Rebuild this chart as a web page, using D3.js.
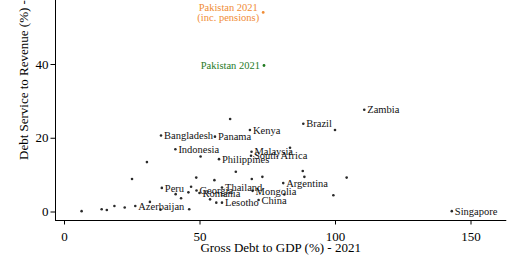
<!DOCTYPE html>
<html><head><meta charset="utf-8">
<script src="https://cdn.jsdelivr.net/npm/d3@7"></script>
<style>
body{margin:0;background:#fff}
svg{display:block}
</style>
</head><body><svg id="c" width="520" height="272"></svg>
<script>
// Labelled countries
const labeledCountries = ["Zambia","Brazil","Kenya","Bangladesh","Panama","Indonesia","Malaysia","South Africa","Philippines","Peru","Thailand","Argentina","Mongolia","Georgia","Romania","China","Lesotho","Azerbaijan","Singapore"];
const labeledDebt =     [110.8, 88.3, 68.6, 35.8, 55.7, 41.1, 69.2, 69.0, 57.2, 36.1, 58.3, 80.9, 69.6, 48.9, 50.0, 71.8, 58.3, 26.3, 143.1];
const labeledService =  [27.6, 23.8, 22.1, 20.6, 20.3, 16.9, 16.2, 15.1, 14.2, 6.4, 6.5, 7.7, 5.6, 5.7, 5.0, 3.1, 2.4, 1.5, 0.1];
// Unlabelled countries
const otherDebt =    [6.5, 13.9, 15.8, 18.6, 22.4, 25.1, 30.6, 31.7, 35.6, 41.2, 43.2, 45.9, 46.9, 46.2, 48.8, 50.4, 55.5, 53.9, 56.2, 63.4, 69.3, 73.2, 61.3, 100.0, 83.4, 88.1, 88.7, 104.3, 99.4, 81.3];
const otherService = [0.1, 0.6, 0.4, 1.5, 1.1, 8.8, 13.4, 2.6, 0.5, 4.7, 3.6, 5.2, 6.7, 0.6, 9.2, 14.9, 8.5, 3.3, 2.4, 10.8, 8.8, 9.4, 25.1, 22.1, 17.3, 11.0, 9.4, 9.2, 4.4, 4.6];
// Pakistan highlights
const pakistanLabels = [["Pakistan 2021"], ["Pakistan 2021", "(inc. pensions)"]];
const pakistanDebt = [73.8, 73.5];
const pakistanService = [39.6, 54.0];
const pakistanColors = ["#1f7a1f", "#f08c35"];
// Axes
const xTicks = [0, 50, 100, 150];
const yTicks = [0, 20, 40];
const xTitle = "Gross Debt to GDP (%) - 2021";
const yTitle = "Debt Service to Revenue (%) - 2021";

const FONT = '"Liberation Serif", "Times New Roman", serif';
const svg = d3.select("#c").style("font-family", FONT);
const x = d3.scaleLinear().domain([0, 150]).range([64, 470.5]);
const y = d3.scaleLinear().domain([0, 40]).range([211.5, 64]);
const axisY0 = 220.5, axisX0 = 55.5;

// X axis
const gx = svg.append("g").attr("transform", `translate(0,${axisY0})`)
  .call(d3.axisBottom(x).tickValues(xTicks).tickSize(4).tickPadding(7).tickSizeOuter(0));
gx.attr("font-family", null).attr("font-size", null);
gx.select(".domain").remove();
gx.append("line").attr("x1", x(-3.3)).attr("x2", x(163.2)).attr("stroke", "#000");
gx.selectAll(".tick line").attr("stroke", "#000");
gx.selectAll(".tick text").attr("font-size", 13).attr("fill", "#000").style("font-family", FONT);

// Y axis
const gy = svg.append("g").attr("transform", `translate(${axisX0},0)`)
  .call(d3.axisLeft(y).tickValues(yTicks).tickSize(5).tickPadding(2).tickSizeOuter(0));
gy.attr("font-family", null).attr("font-size", null);
gy.select(".domain").remove();
gy.append("line").attr("y1", axisY0).attr("y2", y(60)).attr("stroke", "#000");
gy.selectAll(".tick line").attr("stroke", "#000");
gy.selectAll(".tick text").attr("font-size", 13).attr("fill", "#000").style("font-family", FONT);

// Titles
svg.append("text").attr("x", (x(-3.3) + x(163.2)) / 2).attr("y", 252)
  .attr("text-anchor", "middle").attr("font-size", 13).attr("fill", "#000").style("font-family", FONT).text(xTitle);
svg.append("text").attr("transform", "translate(28,160) rotate(-90)")
  .attr("text-anchor", "start").attr("font-size", 13).attr("fill", "#000").style("font-family", FONT).text(yTitle);

// Unlabelled points
svg.append("g").selectAll("circle").data(otherDebt.map((d, i) => [d, otherService[i]]))
  .join("circle").attr("cx", d => x(d[0])).attr("cy", d => y(d[1])).attr("r", 1.3).attr("fill", "#2a2a2a");

// Labelled points
const lab = labeledCountries.map((n, i) => ({n, d: labeledDebt[i], s: labeledService[i]}));
const gl = svg.append("g");
gl.selectAll("circle").data(lab).join("circle")
  .attr("cx", d => x(d.d)).attr("cy", d => y(d.s)).attr("r", 1.3).attr("fill", "#2a2a2a");
gl.selectAll("text").data(lab).join("text")
  .attr("x", d => x(d.d) + 3).attr("y", d => y(d.s)).attr("dy", "0.35em")
  .attr("font-size", 10.5).attr("fill", "#111").style("font-family", FONT).text(d => d.n);

// Pakistan
const pk = pakistanLabels.map((l, i) => ({l, d: pakistanDebt[i], s: pakistanService[i], c: pakistanColors[i]}));
const gp = svg.append("g");
gp.selectAll("circle").data(pk).join("circle")
  .attr("cx", d => x(d.d)).attr("cy", d => y(d.s)).attr("r", 1.4).attr("fill", d => d.c);
pk.forEach(p => {
  const t = gp.append("text").attr("font-size", 10.5).attr("fill", p.c).attr("text-anchor", "middle").style("font-family", FONT);
  const n = p.l.length;
  p.l.forEach((line, k) => {
    t.append("tspan").attr("y", y(p.s)).attr("dy", ((k - (n - 1) / 2) * 10 + 3.6) + "px").text(line);
  });
  let maxW = 0;
  t.selectAll("tspan").each(function () { maxW = Math.max(maxW, this.getComputedTextLength()); });
  t.selectAll("tspan").attr("x", x(p.d) - 4 - maxW / 2);
});
</script></body></html>
